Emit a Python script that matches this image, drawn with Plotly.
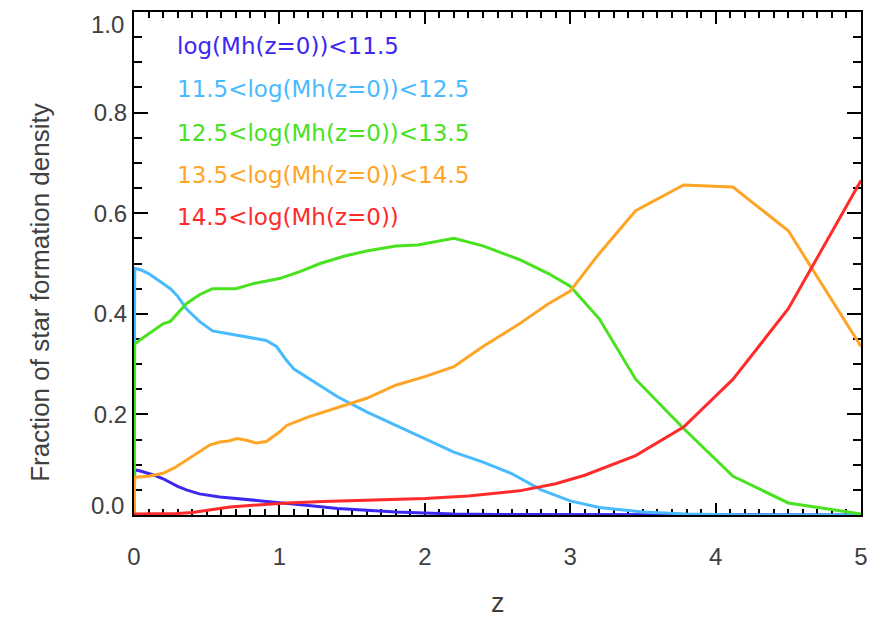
import plotly.graph_objects as go

# ---- data ----
labels = ["log(Mh(z=0))<11.5", "11.5<log(Mh(z=0))<12.5", "12.5<log(Mh(z=0))<13.5",
          "13.5<log(Mh(z=0))<14.5", "14.5<log(Mh(z=0))"]
colors = ["#3c28f0", "#48bbff", "#48e21e", "#ffa526", "#ff2a2a"]

z_b1 = [0, 0.005, 0.05, 0.1, 0.15, 0.2, 0.25, 0.3, 0.36, 0.45, 0.59, 0.7, 0.82, 0.95, 1.05,
        1.2, 1.4, 1.6, 1.8, 2.0, 2.2, 2.5, 3.0, 3.5, 4.0, 4.5, 5.0]
f_b1 = [0, 0.09, 0.087, 0.083, 0.078, 0.072, 0.064, 0.057, 0.05, 0.042, 0.036, 0.033, 0.03,
        0.027, 0.024, 0.019, 0.013, 0.009, 0.006, 0.004, 0.002, 0.001, 0.0005, 0, 0, 0, 0]

z_b2 = [0, 0.005, 0.05, 0.1, 0.15, 0.2, 0.25, 0.3, 0.36, 0.45, 0.54, 0.66, 0.8, 0.91, 0.98,
        1.05, 1.1, 1.25, 1.4, 1.6, 1.8, 2.0, 2.2, 2.4, 2.6, 2.8, 3.0, 3.2, 3.5, 3.8, 4.2, 5.0]
f_b2 = [0, 0.49, 0.487, 0.48, 0.47, 0.46, 0.45, 0.435, 0.41, 0.385, 0.366, 0.36, 0.352, 0.347,
        0.335, 0.307, 0.29, 0.262, 0.235, 0.205, 0.178, 0.152, 0.125, 0.105, 0.082, 0.05,
        0.028, 0.015, 0.006, 0.002, 0, 0]

z_b3 = [0, 0.005, 0.05, 0.1, 0.15, 0.2, 0.25, 0.3, 0.36, 0.45, 0.54, 0.7, 0.82, 1.0, 1.15,
        1.28, 1.45, 1.6, 1.8, 1.95, 2.2, 2.4, 2.65, 2.85, 3.0, 3.2, 3.45, 3.78, 4.12, 4.5, 5.0]
f_b3 = [0, 0.34, 0.35, 0.36, 0.37, 0.38, 0.385, 0.4, 0.42, 0.438, 0.45, 0.45, 0.46, 0.47,
        0.485, 0.5, 0.515, 0.525, 0.535, 0.537, 0.55, 0.535, 0.508, 0.48, 0.455, 0.39, 0.27,
        0.172, 0.077, 0.024, 0.002]

z_b4 = [0, 0.005, 0.1, 0.2, 0.28, 0.36, 0.45, 0.52, 0.59, 0.65, 0.71, 0.78, 0.84, 0.91, 1.0,
        1.05, 1.2, 1.4, 1.6, 1.8, 2.0, 2.2, 2.4, 2.65, 2.85, 3.0, 3.2, 3.45, 3.78, 4.12, 4.5, 5.0]
f_b4 = [0, 0.075, 0.077, 0.083, 0.094, 0.109, 0.127, 0.139, 0.145, 0.147, 0.152, 0.148, 0.143,
        0.146, 0.165, 0.178, 0.195, 0.213, 0.232, 0.258, 0.275, 0.295, 0.335, 0.38, 0.42, 0.445,
        0.52, 0.605, 0.656, 0.652, 0.565, 0.335]

z_b5 = [0, 0.3, 0.4, 0.55, 0.66, 0.85, 1.05, 1.3, 1.62, 2.0, 2.3, 2.65, 2.9, 3.1, 3.45, 3.78,
        4.12, 4.5, 5.0]
f_b5 = [0.002, 0.003, 0.005, 0.011, 0.016, 0.02, 0.024, 0.027, 0.03, 0.033, 0.038, 0.048,
        0.062, 0.079, 0.118, 0.175, 0.27, 0.41, 0.665]

series = [(z_b1, f_b1), (z_b2, f_b2), (z_b3, f_b3), (z_b4, f_b4), (z_b5, f_b5)]

x_ticks = [0, 1, 2, 3, 4, 5]
y_ticks = [0.0, 0.2, 0.4, 0.6, 0.8, 1.0]
y_inner_ticks = y_ticks[1:-1]          # labelled by the axis
y_edge_ticks = [y_ticks[0], y_ticks[-1]]  # labelled as text, nudged inward as in the reference

fig = go.Figure()
for (zz, ff), lab, col in zip(series, labels, colors):
    fig.add_trace(go.Scatter(x=zz, y=ff, mode="lines", name=lab,
                             line=dict(color=col, width=3), showlegend=False))

# legend as coloured text
legend_y = [0.933, 0.846, 0.760, 0.675, 0.592]
for lab, col, yy in zip(labels, colors, legend_y):
    fig.add_annotation(text=lab, x=0.0565, y=yy, xref="paper", yref="paper",
                       xanchor="left", yanchor="middle", showarrow=False,
                       font=dict(family="DejaVu Sans", size=23, color=col))

tick_font = dict(family="Liberation Sans", size=24, color="#404040")
for v, shift in zip(y_edge_ticks, [10, -12]):
    fig.add_annotation(text=f"{v:.1f}", x=0, y=v, xref="paper", yref="y",
                       xanchor="right", yanchor="middle", xshift=-8, yshift=shift,
                       showarrow=False, font=tick_font)

fig.add_annotation(text="Fraction of star formation density", x=-0.1293, y=0.4436,
                   xref="paper", yref="paper", textangle=-90, showarrow=False,
                   xanchor="center", yanchor="middle",
                   font=dict(family="Liberation Sans", size=26, color="#404040"))
fig.add_annotation(text="z", x=0.5, y=-0.174, xref="paper", yref="paper",
                   showarrow=False, xanchor="center", yanchor="middle",
                   font=dict(family="Liberation Sans", size=27, color="#404040"))

axis_common = dict(showline=True, linecolor="black", linewidth=2, mirror="allticks",
                   ticks="inside", tickcolor="black", tickwidth=2, showgrid=False,
                   zeroline=False, layer="below traces", tickfont=tick_font)

fig.update_xaxes(range=[0, 5], tickvals=x_ticks, ticklen=12, ticklabelstandoff=19,
                 minor=dict(dtick=0.1, ticks="inside", ticklen=6, tickcolor="black",
                            tickwidth=2, showgrid=False),
                 **axis_common)
fig.update_yaxes(range=[0, 1], tickvals=y_inner_ticks, tickformat=".1f", ticklen=14,
                 minor=dict(dtick=0.05, ticks="inside", ticklen=8, tickcolor="black",
                            tickwidth=2, showgrid=False),
                 **axis_common)

fig.update_layout(width=879, height=621, margin=dict(l=134, r=18, t=10, b=106),
                  plot_bgcolor="white", paper_bgcolor="white", showlegend=False)

fig.write_html("out.html")
